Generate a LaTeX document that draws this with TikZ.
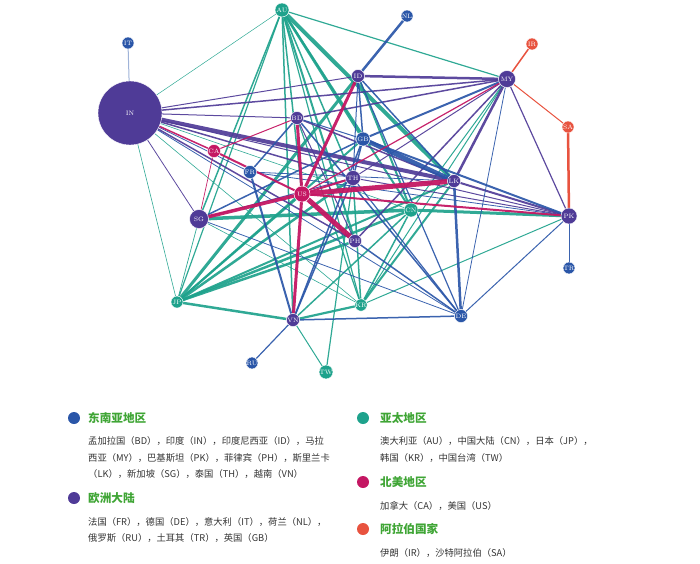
\documentclass[tikz,border=0pt]{standalone}
\usepackage{fontspec}
\newfontfamily\cjk{Noto Sans CJK SC}
\definecolor{cbl}{HTML}{2A56A8}
\definecolor{cpu}{HTML}{4F3B97}
\definecolor{cte}{HTML}{1EA28C}
\definecolor{ccr}{HTML}{C41763}
\definecolor{cre}{HTML}{E8533F}
\definecolor{cgr}{HTML}{3FA535}
\definecolor{ctx}{HTML}{333333}
\pgfdeclarelayer{bg}\pgfsetlayers{bg,main}
\tikzset{
  nd/.style={circle,draw=white,line width=0.4pt,inner sep=0pt,text=white,font=\fontsize{6.3}{7}\selectfont},
  nbl/.style={nd,fill=cbl,minimum size=#1},
  npu/.style={nd,fill=cpu,minimum size=#1},
  nte/.style={nd,fill=cte,minimum size=#1},
  ncr/.style={nd,fill=ccr,minimum size=#1},
  nre/.style={nd,fill=cre,minimum size=#1},
  ebl/.style={cbl,opacity=0.92},
  epu/.style={cpu,opacity=0.92},
  ete/.style={cte,opacity=0.92},
  ecr/.style={ccr,opacity=0.95},
  ere/.style={cre},
  ldot/.style={circle,inner sep=0pt,minimum size=12pt},
  lhead/.style={anchor=west,inner sep=0pt,text=cgr,font=\cjk\bfseries\fontsize{11.6}{13}\selectfont},
  lbody/.style={anchor=west,inner sep=0pt,text=ctx,font=\cjk\fontsize{9.3}{10}\selectfont},
}
\begin{document}
\begin{tikzpicture}[x=1pt,y=-1pt]
\useasboundingbox (0,0) rectangle (700,563);
% nodes
\node[nbl=12pt] (IT) at (128,43) {IT};
\node[npu=64pt] (IN) at (130,113) {IN};
\node[nte=14pt] (AU) at (282,10) {AU};
\node[nbl=12pt] (NL) at (407,16) {NL};
\node[nre=12pt] (IR) at (532,44) {IR};
\node[npu=17pt] (MY) at (507,79) {MY};
\node[npu=13pt] (ID) at (358,76) {ID};
\node[nre=12pt] (SA) at (568,127) {SA};
\node[npu=13pt] (BD) at (297,118) {BD};
\node[ncr=13pt] (CA) at (214,151) {CA};
\node[nbl=14pt] (GB) at (363,139) {GB};
\node[nbl=13pt] (FR) at (250,172) {FR};
\node[ncr=16pt] (US) at (302,194) {US};
\node[npu=15pt] (TH) at (353,178) {TH};
\node[npu=13pt] (LK) at (454,181) {LK};
\node[nte=14pt] (CN) at (411,210) {CN};
\node[npu=19pt] (SG) at (199,219) {SG};
\node[npu=16pt] (PK) at (569,216) {PK};
\node[npu=13pt] (PH) at (355,241) {PH};
\node[nbl=11pt] (TR) at (569,268) {TR};
\node[nte=12pt] (JP) at (177,302) {JP};
\node[nte=12pt] (KR) at (361,305) {KR};
\node[npu=13pt] (VN) at (293,320) {VN};
\node[nbl=13pt] (DE) at (461,316) {DE};
\node[nbl=11pt] (RU) at (252,363) {RU};
\node[nte=11pt] (TW) at (326,372) {TW};
% edges
\begin{pgfonlayer}{bg}
\foreach \a/\b/\w in {AU/IN/0.5,AU/MY/1.2,AU/LK/4,AU/GB/2.5,AU/CN/2,AU/TH/1.5,AU/PH/2,AU/US/1.5,AU/KR/1.2,AU/VN/1.5,AU/SG/1.5,AU/JP/1.2,
  JP/ID/3,JP/TH/2.5,JP/GB/2,JP/CN/2.5,JP/LK/2,JP/PH/2.5,JP/VN/2.5,JP/SG/0.7,JP/IN/0.6,JP/US/2,
  SG/CN/3.5,CN/PK/3,CN/VN/1.5,CN/KR/1.5,CN/ID/2,CN/MY/1,CN/IN/0.6,KR/VN/2.2,KR/PK/1,KR/IN/0.6,KR/SG/0.6,KR/TH/1.5,KR/LK/2,KR/MY/1,KR/BD/1.2,TW/VN/1,TW/TH/1.2}
  \draw[ete,line width=\w pt] (\a) -- (\b);
\foreach \a/\b/\w in {IN/MY/1.5,IN/ID/1,IN/BD/1,IN/LK/4,IN/PK/1,IN/TH/1.5,IN/SG/0.8,IN/PH/1.5,
  MY/ID/2.5,MY/BD/1.5,MY/LK/2.5,MY/PK/1.2,MY/TH/1,MY/PH/1.5,BD/PH/1,LK/PK/2,PK/TH/1,BD/LK/1.5,SG/TH/1}
  \draw[epu,line width=\w pt] (\a) -- (\b);
\foreach \a/\b/\w in {NL/ID/2.5,RU/VN/1.2,TR/PK/1,GB/LK/4.5,GB/TH/1.5,GB/VN/1.5,GB/SG/1.5,GB/BD/1,GB/MY/2,GB/PK/2,GB/ID/1.5,
  FR/VN/2,FR/BD/1.5,FR/LK/0.8,FR/PK/0.8,FR/IN/0.8,DE/VN/1.5,DE/LK/2.5,DE/BD/1.5,DE/PH/1.5,DE/TH/1.2,DE/MY/0.8,DE/PK/1,DE/SG/0.8,DE/IN/0.8,DE/ID/1.2,
  ID/LK/1.5,ID/TH/1,TH/VN/1.5}
  \draw[ebl,line width=\w pt] (\a) -- (\b);
\draw[line width=1pt,cbl!45] (IT) -- (IN);
\foreach \a/\b/\w in {US/LK/5,US/PH/5,US/SG/3.5,US/BD/3,US/VN/3,US/ID/3,US/TH/2,US/CA/2,US/PK/2,US/MY/1.2,CA/IN/1.5,CA/BD/1,CA/SG/0.7}
  \draw[ecr,line width=\w pt] (\a) -- (\b);
\foreach \a/\b/\w in {SA/MY/1,IR/MY/1.5,SA/PK/2.5}
  \draw[ere,line width=\w pt] (\a) -- (\b);
\end{pgfonlayer}
% legend
\node[ldot,fill=cbl] (d1) at (74,418) {};
\node[lhead] (h1) at (88,418) {东南亚地区};
\node[lbody] (b1a) at (88,441) {孟加拉国（BD），印度（IN），印度尼西亚（ID），马拉};
\node[lbody] (b1b) at (88,458) {西亚（MY），巴基斯坦（PK），菲律宾（PH），斯里兰卡};
\node[lbody] (b1c) at (88,474) {（LK），新加坡（SG），泰国（TH），越南（VN）};
\node[ldot,fill=cpu] (d2) at (74,498) {};
\node[lhead] (h2) at (88,498) {欧洲大陆};
\node[lbody] (b2a) at (88,522) {法国（FR），德国（DE），意大利（IT），荷兰（NL），};
\node[lbody] (b2b) at (88,538) {俄罗斯（RU），土耳其（TR），英国（GB）};
\node[ldot,fill=cte] (d3) at (363,418) {};
\node[lhead] (h3) at (380,418) {亚太地区};
\node[lbody] (b3a) at (380,441) {澳大利亚（AU），中国大陆（CN），日本（JP），};
\node[lbody] (b3b) at (380,458) {韩国（KR），中国台湾（TW）};
\node[ldot,fill=ccr] (d4) at (363,482) {};
\node[lhead] (h4) at (380,482) {北美地区};
\node[lbody] (b4a) at (380,506) {加拿大（CA），美国（US）};
\node[ldot,fill=cre] (d5) at (363,529) {};
\node[lhead] (h5) at (380,529) {阿拉伯国家};
\node[lbody] (b5a) at (380,553) {伊朗（IR），沙特阿拉伯（SA）};
\end{tikzpicture}
\end{document}
